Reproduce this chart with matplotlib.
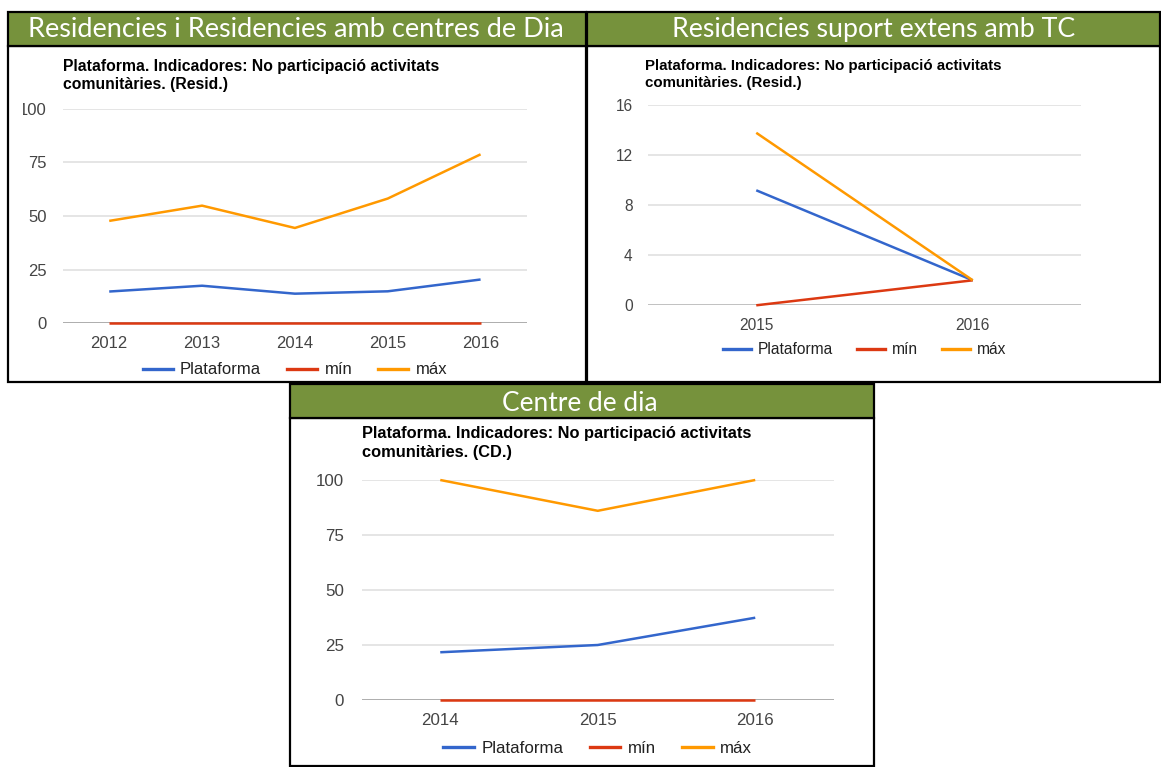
import matplotlib
matplotlib.use('Agg')
import matplotlib.pyplot as plt
from matplotlib.patches import Rectangle
from matplotlib.lines import Line2D
from matplotlib.transforms import Bbox, TransformedBbox

W, H = 1161, 767

# ---------------- data ----------------
years_a = ['2012', '2013', '2014', '2015', '2016']
plat_a = [14.8, 17.5, 13.8, 14.9, 20.4]
min_a = [0, 0, 0, 0, 0]
max_a = [47.7, 54.8, 44.4, 58.1, 78.7]

years_b = ['2015', '2016']
plat_b = [9.2, 2.0]
min_b = [0, 2.0]
max_b = [13.8, 2.0]

years_c = ['2014', '2015', '2016']
plat_c = [21.7, 25.0, 37.4]
min_c = [0, 0, 0]
max_c = [100, 86.0, 100]

yticks_a = [0, 25, 50, 75, 100]
yticks_b = [0, 4, 8, 12, 16]
yticks_c = [0, 25, 50, 75, 100]

headers = ['Residencies i Residencies amb centres de Dia',
           'Residencies suport extens amb TC',
           'Centre de dia']
titles = [['Plataforma. Indicadores: No participació activitats', 'comunitàries. (Resid.)'],
          ['Plataforma. Indicadores: No participació activitats', 'comunitàries. (Resid.)'],
          ['Plataforma. Indicadores: No participació activitats', 'comunitàries. (CD.)']]
series_names = ['Plataforma', 'mín', 'máx']
colors = ['#3366cc', '#dc3912', '#ff9900']

GREEN = '#76923c'
ARIAL = ['Liberation Sans', 'DejaVu Sans']

fig = plt.figure(figsize=(W / 100, H / 100), dpi=100)
fig.patch.set_facecolor('white')


def fx(x):
    return x / W


def fy(y):
    return 1 - y / H


def rect_px(x0, y0, x1, y1, **kw):
    r = Rectangle((fx(x0), fy(y1)), (x1 - x0) / W, (y1 - y0) / H,
                  transform=fig.transFigure, **kw)
    fig.add_artist(r)
    return r


# panels: header box and body box in pixel coords
panels = [
    dict(head=(8, 12, 586, 46), body=(8, 46, 586, 382)),
    dict(head=(587, 12, 1160, 46), body=(587, 46, 1160, 382)),
    dict(head=(290, 384, 874, 418), body=(290, 418, 874, 766)),
]
for p in panels:
    rect_px(*p['body'], facecolor='white', edgecolor='black', linewidth=1.6, zorder=0)
    rect_px(*p['head'], facecolor=GREEN, edgecolor='black', linewidth=1.6, zorder=1)

# header text: centre x, baseline y, target width (px)
header_pos = [(296, 37, 537), (874, 37, 402), (580, 411, 155)]
htexts = []
for txt, (cx, by, tw) in zip(headers, header_pos):
    t = fig.text(fx(cx), fy(by), txt, color='white', ha='center', va='baseline',
                 fontsize=17, family=['Lato', 'DejaVu Sans'], zorder=3)
    htexts.append((t, tw))

fig.canvas.draw()
rend = fig.canvas.get_renderer()
for t, tw in htexts:
    w = t.get_window_extent(rend).width
    t.set_fontsize(t.get_fontsize() * tw / w)

# chart titles (two lines each): x, baseline1, baseline2, fontsize
title_pos = [(63, 71, 89, 11.35), (645, 70, 87.5, 10.8), (362, 438.5, 457.5, 11.8)]
for lines, (x, b1, b2, fs) in zip(titles, title_pos):
    for ln, b in zip(lines, (b1, b2)):
        fig.text(fx(x), fy(b), ln, ha='left', va='baseline', fontsize=fs,
                 fontweight='bold', family=ARIAL, color='#000000')

# axes placement in px (left, top, right, bottom)
axes_px = [(62.8, 108.6, 527, 323.3), (648, 105.3, 1081, 305.3), (361.5, 480, 834, 700)]
datasets = [
    (years_a, [plat_a, min_a, max_a], yticks_a, '#9e9e9e', 1.8),
    (years_b, [plat_b, min_b, max_b], yticks_b, '#333333', 1.0),
    (years_c, [plat_c, min_c, max_c], yticks_c, '#9e9e9e', 1.8),
]
legend_y = [-0.2175, -0.2235, -0.221]
font_sz = [12, 11.2, 12.2]
ypads = [11.5, 11, 12.5]

for i, ((l, t, r, b), (cats, series, yt, basec, basew), ly, fs, yp) in enumerate(
        zip(axes_px, datasets, legend_y, font_sz, ypads)):
    ax = fig.add_axes([fx(l), fy(b), (r - l) / W, (b - t) / H])
    ax.set_facecolor('none')
    for s in ax.spines.values():
        s.set_visible(False)
    x = list(range(len(cats)))
    ax.set_xlim(-0.5, len(cats) - 0.5)
    ax.set_ylim(yt[0], yt[-1])
    ax.set_yticks(yt)
    ax.set_yticklabels([str(v) for v in yt])
    ax.set_xticks(x)
    ax.set_xticklabels(cats)
    ax.tick_params(length=0, labelsize=fs, labelcolor='#444444')
    ax.tick_params(axis='y', pad=yp)
    ax.tick_params(axis='x', pad=9.5)
    for lab in ax.get_xticklabels() + ax.get_yticklabels():
        lab.set_family(ARIAL)
    if i == 0:
        clip = TransformedBbox(Bbox([[fx(23), 0], [1, 1]]), fig.transFigure)
        for lab in ax.get_yticklabels():
            lab.set_clip_box(clip)
            lab.set_clip_on(True)
    ax.yaxis.grid(True, color='#e3e3e3', linewidth=1.3)
    ax.set_axisbelow(True)
    ax.axhline(0, color=basec, linewidth=basew, zorder=1)
    for vals, c in zip(series, colors):
        ax.plot(x, vals, color=c, linewidth=1.8, zorder=3, clip_on=False,
                solid_joinstyle='round', solid_capstyle='butt')
    handles = [Line2D([], [], color=c, linewidth=2.4) for c in colors]
    leg = ax.legend(handles, series_names, loc='center', bbox_to_anchor=(0.5, ly),
                    ncol=3, frameon=False, handlelength=1.8, handletextpad=0.45,
                    columnspacing=1.55, prop={'family': ARIAL, 'size': fs})
    for tx in leg.get_texts():
        tx.set_color('#222222')

fig.savefig('out.png', dpi=100, facecolor='white')
